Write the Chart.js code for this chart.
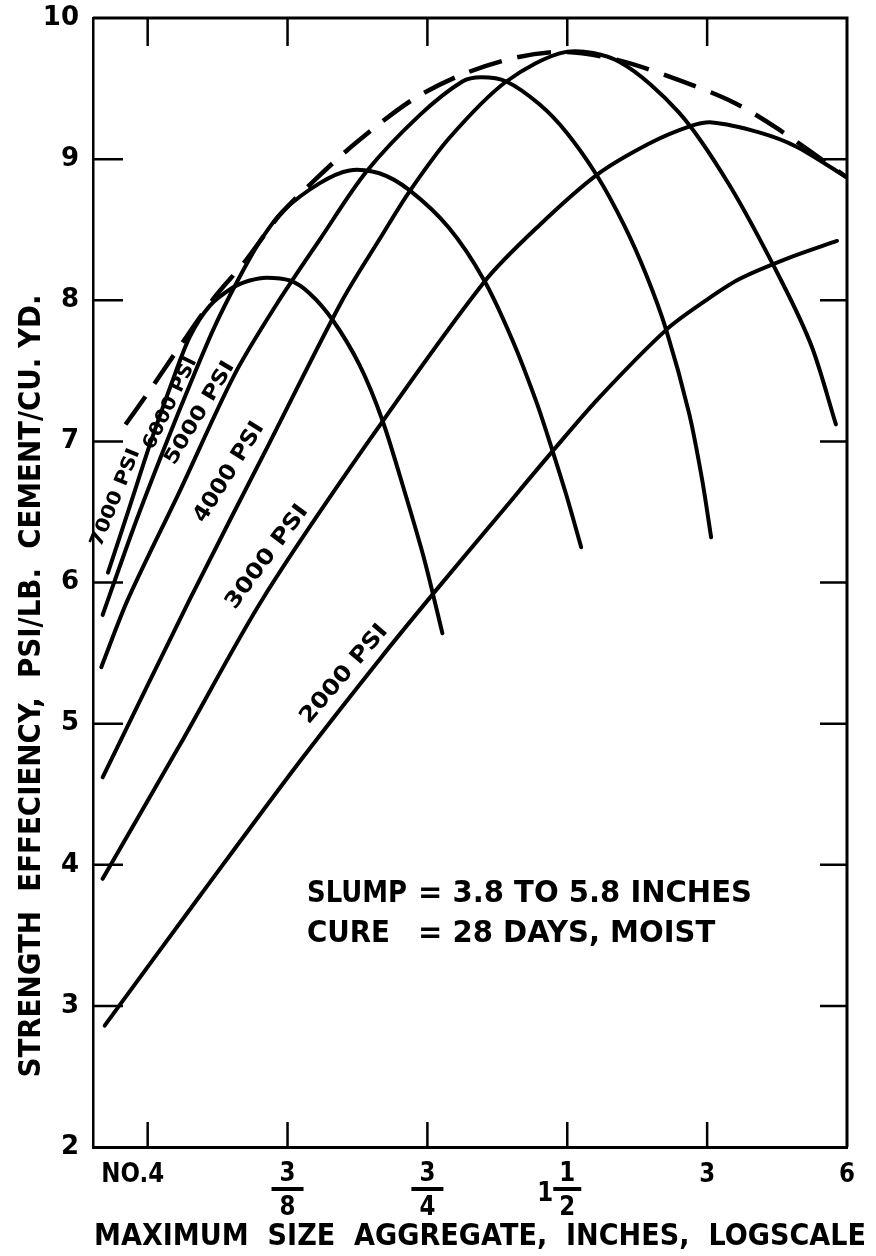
<!DOCTYPE html>
<html>
<head>
<meta charset="utf-8">
<title>Strength efficiency vs maximum size aggregate</title>
<script src="https://cdn.jsdelivr.net/npm/chart.js@4.4.1/dist/chart.umd.min.js"></script>
<style>
  html, body { margin: 0; padding: 0; background: #fff; }
  canvas { display: block; }
</style>
</head>
<body>
<canvas id="chart" width="876" height="1256"></canvas>
<script>
// Maximum size aggregate (inches) and strength efficiency (psi per lb cement per cu yd)
const size7000 = [0.154, 0.172, 0.191, 0.211, 0.231, 0.255, 0.286, 0.311, 0.338, 0.379, 0.418, 0.469, 0.536, 0.600, 0.669, 0.739, 0.808];
const eff7000  = [6.07, 6.55, 7.01, 7.41, 7.74, 7.96, 8.09, 8.14, 8.16, 8.14, 8.05, 7.86, 7.54, 7.15, 6.65, 6.16, 5.64];

const size6000 = [0.150, 0.175, 0.204, 0.233, 0.261, 0.293, 0.326, 0.366, 0.440, 0.510, 0.591, 0.686, 0.836, 0.994, 1.142, 1.287, 1.386, 1.493, 1.607];
const eff6000  = [5.77, 6.39, 6.96, 7.43, 7.81, 8.14, 8.41, 8.63, 8.83, 8.92, 8.90, 8.78, 8.51, 8.14, 7.72, 7.28, 6.96, 6.62, 6.25];

const size5000 = [0.149, 0.170, 0.220, 0.288, 0.355, 0.440, 0.554, 0.721, 0.892, 0.980, 1.109, 1.305, 1.493, 1.740, 1.989, 2.218, 2.449, 2.743, 2.926, 3.06];
const eff5000  = [5.40, 5.88, 6.65, 7.47, 7.97, 8.43, 8.91, 9.31, 9.55, 9.58, 9.55, 9.39, 9.19, 8.88, 8.53, 8.18, 7.79, 7.20, 6.73, 6.32];

const size4000 = [0.150, 0.231, 0.343, 0.492, 0.591, 0.686, 0.836, 1.109, 1.493, 1.940, 2.61, 3.345, 4.33, 5.04, 5.68];
const eff4000  = [4.62, 5.88, 6.99, 8.00, 8.43, 8.77, 9.15, 9.55, 9.76, 9.69, 9.33, 8.82, 8.14, 7.67, 7.12];

const size3000 = [0.150, 0.220, 0.331, 0.563, 0.994, 1.305, 1.740, 2.252, 2.743, 3.075, 3.88, 4.66, 6.0];
const eff3000  = [3.90, 4.85, 5.88, 7.01, 8.13, 8.53, 8.89, 9.11, 9.23, 9.26, 9.19, 9.09, 8.87];

const size2000 = [0.1515, 0.243, 0.398, 0.600, 0.776, 1.071, 1.386, 1.757, 2.449, 2.956, 3.52, 4.50, 5.71];
const eff2000  = [2.86, 3.78, 4.73, 5.48, 5.93, 6.48, 6.92, 7.31, 7.79, 7.99, 8.15, 8.30, 8.42];

// dashed upper envelope
const sizeEnvelope = [0.168, 0.1875, 0.2175, 0.261, 0.303, 0.360, 0.435, 0.528, 0.696, 0.892, 1.165, 1.493, 1.940, 2.61, 3.43, 4.28, 6.0];
const effEnvelope  = [7.12, 7.34, 7.65, 8.02, 8.27, 8.60, 8.87, 9.12, 9.42, 9.60, 9.72, 9.76, 9.70, 9.56, 9.40, 9.21, 8.87];

const curveNames = ['7000 PSI', '6000 PSI', '5000 PSI', '4000 PSI', '3000 PSI', '2000 PSI'];

// axes
const xTickValues = [0.1875, 0.375, 0.75, 1.5, 3, 6];
const xTickLabels = ['NO.4', '3/8', '3/4', '1 1/2', '3', '6'];
const yTickValues = [3, 4, 5, 6, 7, 8, 9];

const xTitle = 'MAXIMUM  SIZE  AGGREGATE,  INCHES,  LOGSCALE';
const yTitle = 'STRENGTH  EFFECIENCY,  PSI/LB.  CEMENT/CU. YD.';
const noteLines = [['SLUMP', '= 3.8 TO 5.8 INCHES'], ['CURE', '= 28 DAYS, MOIST']];

const LETTERING = "'DejaVu Sans', 'Liberation Sans', sans-serif";
const INK = '#000';

// where each curve name sits beside its line (data units) and how it is tilted
const curveLabelLayout = [
  { x: 0.160, y: 6.60, angle: -68,   length: 104, size: 19 },
  { x: 0.210, y: 7.27, angle: -64,   length: 100, size: 19 },
  { x: 0.243, y: 7.20, angle: -59,   length: 117, size: 20 },
  { x: 0.281, y: 6.78, angle: -58,   length: 114, size: 22 },
  { x: 0.339, y: 6.18, angle: -53.5, length: 124, size: 22 },
  { x: 0.497, y: 5.35, angle: -49.6, length: 123, size: 22 }
];

const series = [
  [size7000, eff7000], [size6000, eff6000], [size5000, eff5000],
  [size4000, eff4000], [size3000, eff3000], [size2000, eff2000]
];

function toPoints(xs, ys) {
  return xs.map((v, i) => ({ x: v, y: ys[i] }));
}

const datasets = series.map(([xs, ys], i) => ({
  label: curveNames[i],
  data: toPoints(xs, ys),
  borderColor: INK,
  borderWidth: 4,
  borderCapStyle: 'round',
  pointRadius: 0,
  tension: 0.3,
  fill: false
}));

datasets.push({
  label: 'envelope',
  data: toPoints(sizeEnvelope, effEnvelope),
  borderColor: INK,
  borderWidth: 4.5,
  borderDash: [34, 16],
  pointRadius: 0,
  tension: 0.3,
  fill: false
});

// text helper: optional rotation, horizontal squeeze or fit to a width
function drawText(ctx, text, x, y, opts) {
  ctx.save();
  ctx.font = opts.font;
  ctx.fillStyle = INK;
  ctx.textAlign = opts.align || 'left';
  ctx.textBaseline = opts.baseline || 'alphabetic';
  ctx.translate(x, y);
  if (opts.rotate) ctx.rotate(opts.rotate * Math.PI / 180);
  let sx = opts.squeeze || 1;
  if (opts.width) sx = opts.width / ctx.measureText(text).width;
  ctx.scale(sx, 1);
  ctx.fillText(text, 0, 0);
  ctx.restore();
  return sx;
}

const framePlugin = {
  id: 'frame',
  afterDraw(chart) {
    const { ctx, chartArea: a, scales: { x, y } } = chart;

    ctx.save();
    ctx.strokeStyle = INK;
    ctx.lineCap = 'butt';

    // top and right sides of the box
    ctx.lineWidth = 3;
    ctx.beginPath();
    ctx.moveTo(a.left, a.top);
    ctx.lineTo(a.right, a.top);
    ctx.lineTo(a.right, a.bottom);
    ctx.stroke();

    // tick marks pointing into the plot on all four sides
    ctx.lineWidth = 2.5;
    ctx.beginPath();
    xTickValues.forEach(v => {
      const px = x.getPixelForValue(v);
      if (px > a.right - 2) return;
      ctx.moveTo(px, a.bottom); ctx.lineTo(px, a.bottom - 25);
      ctx.moveTo(px, a.top); ctx.lineTo(px, a.top + 28);
    });
    yTickValues.forEach(v => {
      const py = y.getPixelForValue(v);
      ctx.moveTo(a.left, py); ctx.lineTo(a.left + 30, py);
      ctx.moveTo(a.right, py); ctx.lineTo(a.right - 27, py);
    });
    ctx.stroke();
    ctx.restore();

    // x tick labels, fractions stacked over a bar
    const tickFont = 'bold 27px ' + LETTERING;
    const sq = 0.85;
    xTickLabels.forEach((label, i) => {
      const px = x.getPixelForValue(xTickValues[i]);
      const frac = label.match(/^(?:(\d+) )?(\d+)\/(\d+)$/);
      if (!frac) {
        const cx = label.length > 1 ? px - 15 : px;
        drawText(ctx, label, cx, a.bottom + 35, { font: tickFont, align: 'center', squeeze: sq });
        return;
      }
      const [, whole, num, den] = frac;
      drawText(ctx, num, px, a.bottom + 34, { font: tickFont, align: 'center', squeeze: sq });
      drawText(ctx, den, px, a.bottom + 68, { font: tickFont, align: 'center', squeeze: sq });
      ctx.save();
      ctx.fillStyle = INK;
      const half = whole ? 14 : 16;
      ctx.fillRect(px - half, a.bottom + 40, half * 2, 4);
      ctx.restore();
      if (whole) {
        drawText(ctx, whole, px - 22, a.bottom + 54, { font: tickFont, align: 'center', squeeze: sq });
      }
    });

    // axis titles
    drawText(ctx, xTitle, 94, 1245, { font: 'bold 31px ' + LETTERING, width: 772 });
    drawText(ctx, yTitle, 32, 686, { font: 'bold 30px ' + LETTERING, align: 'center', baseline: 'middle', rotate: -90, width: 783 });

    // curve names written along each line
    curveLabelLayout.forEach((l, i) => {
      drawText(ctx, curveNames[i], x.getPixelForValue(l.x), y.getPixelForValue(l.y), {
        font: 'bold ' + l.size + 'px ' + LETTERING,
        align: 'center', baseline: 'middle', rotate: l.angle, width: l.length
      });
    });

    // test conditions note
    const noteFont = 'bold 30px ' + LETTERING;
    const left = a.left + 214;
    const base = a.bottom - 245;
    drawText(ctx, noteLines[0][0], left, base, { font: noteFont, width: 100 });
    const noteSq = drawText(ctx, noteLines[0][1], left + 111, base, { font: noteFont, width: 334 });
    drawText(ctx, noteLines[1][0], left, base + 40, { font: noteFont, width: 83 });
    drawText(ctx, noteLines[1][1], left + 111, base + 40, { font: noteFont, squeeze: noteSq });
  }
};

new Chart(document.getElementById('chart'), {
  type: 'line',
  data: { datasets },
  options: {
    responsive: false,
    animation: false,
    events: [],
    layout: { padding: { top: 18, right: 29, left: 0, bottom: 0 } },
    plugins: {
      legend: { display: false },
      tooltip: { enabled: false }
    },
    scales: {
      x: {
        type: 'logarithmic',
        min: 0.143,
        max: 6,
        afterBuildTicks: scale => { scale.ticks = xTickValues.map(v => ({ value: v })); },
        afterFit: scale => {
          scale.height = 109;
          scale.paddingLeft = 0;
          scale.paddingRight = 0;
        },
        ticks: { display: false },
        grid: { display: false, drawTicks: false },
        border: { display: true, color: INK, width: 3 }
      },
      y: {
        type: 'linear',
        min: 2,
        max: 10,
        afterFit: scale => {
          scale.width = 93;
          // tick labels may spill over the plot edges; keep the box where it is
          scale.paddingTop = 0;
          scale.paddingBottom = 0;
        },
        ticks: {
          stepSize: 1,
          padding: 14,
          color: INK,
          font: { family: LETTERING, size: 26, weight: 'bold' }
        },
        grid: { display: false, drawTicks: false },
        border: { display: true, color: INK, width: 2.5 }
      }
    }
  },
  plugins: [framePlugin]
});
</script>
</body>
</html>
